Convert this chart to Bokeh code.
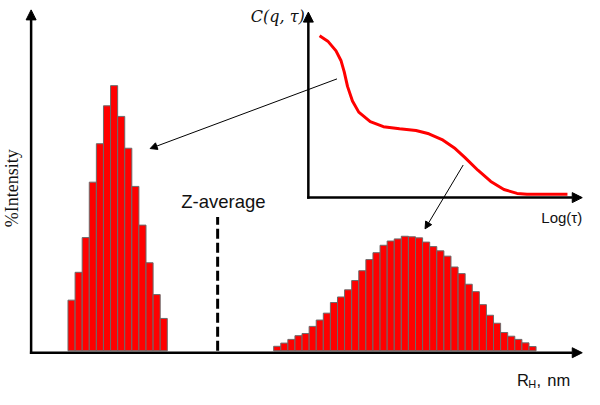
import math
from bokeh.plotting import figure
from bokeh.models import Range1d, Arrow, NormalHead
from bokeh.core.properties import value
from bokeh.embed import file_html
from bokeh.resources import INLINE

# ---------------- data ----------------
# size distribution (%Intensity per R_H bin), two populations
small_bin_start = 0
small_intensity = [19.1, 29.6, 42.7, 63.6, 78.1, 92.4, 100.0, 88.4, 76.4, 62.0,
                   47.4, 33.2, 21.2, 12.2]
large_bin_start = 29
large_intensity = [1.7, 2.9, 4.3, 5.7, 6.5, 9.2, 11.6, 14.2, 18.2, 20.3, 23.0,
                   26.5, 30.2, 34.4, 37.0, 39.8, 41.4, 42.2, 43.2, 43.0, 42.6,
                   41.0, 39.3, 37.7, 35.7, 31.6, 29.1, 25.1, 22.3, 17.4, 13.4,
                   10.4, 6.9, 5.5, 4.3, 3.0, 1.6]
z_average_bin = 21.1
z_average_height = 50.5

# inset correlation function C(q, tau) vs log(tau)
log_tau = [0.41, 0.71, 1.01, 1.19, 1.31, 1.43, 1.61, 1.84, 2.26, 2.74, 3.33,
           3.93, 4.40, 4.88, 5.36, 5.71, 6.19, 6.66, 7.14, 7.62, 7.98, 9.46]
correlation = [0.881, 0.851, 0.798, 0.746, 0.684, 0.605, 0.526, 0.465, 0.413,
               0.386, 0.374, 0.365, 0.347, 0.316, 0.267, 0.219, 0.149, 0.088,
               0.044, 0.023, 0.018, 0.018]

# ---------------- layout ----------------
W, H = 584, 389
RX0, RX1 = 2.0, 599.0
RY0, RY1 = 3.0, 405.0
SX = W / (RX1 - RX0)

# main scale: ref_x = MX0 + MXS*d ; ref_y = MY0 - MYS*v
MX0, MXS = 71.0, 7.25
MY0, MYS = 365.0, 2.74
# inset scale
IX0, IXS = 316.7, 28.0
IY0, IYS = 206.7, 190.0

p = figure(width=W, height=H, output_backend="svg", toolbar_location=None,
           x_axis_type=None, y_axis_type=None, min_border=0,
           x_range=Range1d((RX0 - MX0) / MXS, (RX1 - MX0) / MXS),
           y_range=Range1d((MY0 - RY1) / MYS, (MY0 - RY0) / MYS))
p.outline_line_color = None
p.background_fill_color = "white"
p.border_fill_color = "white"
p.extra_x_ranges = {"inset": Range1d((RX0 - IX0) / IXS, (RX1 - IX0) / IXS)}
p.extra_y_ranges = {"inset": Range1d((IY0 - RY1) / IYS, (IY0 - RY0) / IYS)}

# histogram bars
sl = [small_bin_start + i for i in range(len(small_intensity))]
p.quad(left=sl, right=[x + 1 for x in sl], bottom=0, top=small_intensity,
       fill_color="#FF0000", line_color="#6b6b6b", line_width=1)
ll = [large_bin_start + i for i in range(len(large_intensity))]
p.quad(left=ll, right=[x + 1 for x in ll], bottom=0, top=large_intensity,
       fill_color="#FF0000", line_color="#6b6b6b", line_width=1)

# main axes (arrows)
ax_d = (33.3 - MX0) / MXS
ax_v = (MY0 - 367.0) / MYS
p.add_layout(Arrow(end=NormalHead(size=10, fill_color="black", line_color="black", line_width=1),
                   x_start=ax_d, y_start=ax_v - 0.45, x_end=ax_d, y_end=(MY0 - 12.7) / MYS,
                   line_width=2.5, line_color="black"))
p.add_layout(Arrow(end=NormalHead(size=10, fill_color="black", line_color="black", line_width=1),
                   x_start=ax_d - 0.17, y_start=ax_v, x_end=(596.7 - MX0) / MXS, y_end=ax_v,
                   line_width=2.5, line_color="black"))

# Z-average marker
p.segment(x0=[z_average_bin], y0=[0], x1=[z_average_bin], y1=[z_average_height],
          line_color="black", line_width=3, line_dash="10 4")
p.text(x=[(186.7 - MX0) / MXS], y=[(MY0 - 210.7) / MYS], text=["Z-average"],
       text_font=value("Liberation Sans"), text_font_size="18.5px",
       text_color="#111111", text_align="left", text_baseline="alphabetic")

# axis titles
p.text(x=[(13.5 - MX0) / MXS], y=[(MY0 - 197.0) / MYS], text=["%Intensity"],
       angle=math.pi / 2, text_font=value("Liberation Serif"), text_font_size="18px",
       text_color="#111111", text_align="center", text_baseline="middle")
rx, ry = (530.0 - MX0) / MXS, (MY0 - 395.5) / MYS
p.text(x=[rx], y=[ry], text=["R"], text_font=value("Liberation Sans"),
       text_font_size="16.5px", text_color="#111111", text_align="left", text_baseline="alphabetic")
p.text(x=[rx], y=[ry], text=["H"], x_offset=11.5 * SX, y_offset=4,
       text_font=value("Liberation Sans"), text_font_size="11px", text_color="#111111",
       text_align="left", text_baseline="alphabetic")
p.text(x=[rx], y=[ry], text=["," ], x_offset=20 * SX,
       text_font=value("Liberation Sans"), text_font_size="16.5px", text_color="#111111",
       text_align="left", text_baseline="alphabetic")
p.text(x=[rx], y=[ry], text=["nm"], x_offset=31 * SX,
       text_font=value("Liberation Sans"), text_font_size="16.5px", text_color="#111111",
       text_align="left", text_baseline="alphabetic")

# inset axes
p.add_layout(Arrow(end=NormalHead(size=10, fill_color="black", line_color="black", line_width=1),
                   x_start=0, y_start=-0.006, x_end=0, y_end=(IY0 - 15.0) / IYS,
                   line_width=2.5, line_color="black",
                   x_range_name="inset", y_range_name="inset"))
p.add_layout(Arrow(end=NormalHead(size=10, fill_color="black", line_color="black", line_width=1),
                   x_start=-0.045, y_start=0, x_end=(596.7 - IX0) / IXS, y_end=0,
                   line_width=2.5, line_color="black",
                   x_range_name="inset", y_range_name="inset"))

# inset curve
p.line(x=log_tau, y=correlation, line_color="#FF0000", line_width=3,
       line_join="round", x_range_name="inset", y_range_name="inset")

p.text(x=[(313.0 - IX0) / IXS], y=[(IY0 - 19.5) / IYS], text=["C(q, τ)"],
       text_font=value("DejaVu Serif"), text_font_style="italic", text_font_size="16px",
       text_color="#111111", text_align="right", text_baseline="alphabetic",
       x_range_name="inset", y_range_name="inset")
p.text(x=[(596.7 - IX0) / IXS], y=[(IY0 - 227.3) / IYS], text=["Log(τ)"],
       text_font=value("Liberation Sans"), text_font_size="15px",
       text_color="#111111", text_align="right", text_baseline="alphabetic",
       x_range_name="inset", y_range_name="inset")

# pointer arrows from the correlation curve to the populations
pointer_start = [(346.0, 84.0), (475.0, 173.0)]
pointer_end = [(155.0, 156.0), (436.0, 239.0)]
for (xs, ys), (xe, ye) in zip(pointer_start, pointer_end):
    p.add_layout(Arrow(end=NormalHead(size=7, fill_color="black", line_color="black", line_width=1),
                       x_start=(xs - MX0) / MXS, y_start=(MY0 - ys) / MYS,
                       x_end=(xe - MX0) / MXS, y_end=(MY0 - ye) / MYS,
                       line_width=1, line_color="black"))

open("out.html", "w").write(file_html(p, INLINE))
